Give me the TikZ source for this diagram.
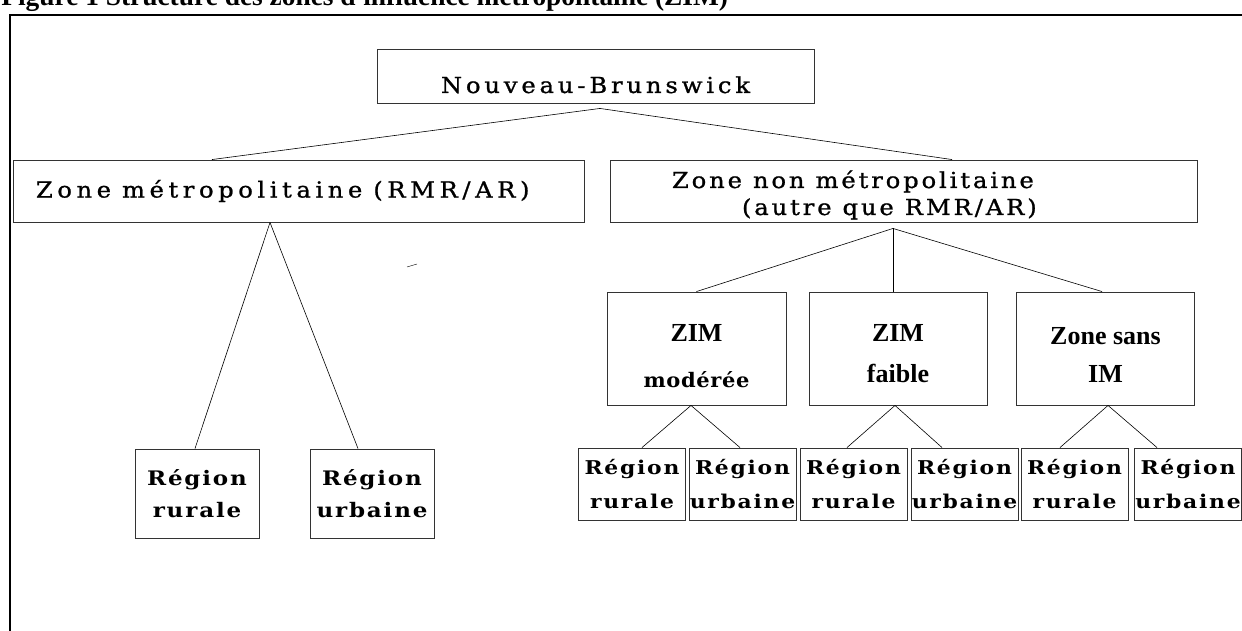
\documentclass[tikz,border=0pt]{standalone}
\usepackage{fontspec}
\usepackage{graphicx}
\usepackage{tikz}
\usetikzlibrary{positioning}
\newfontfamily\boxfont{DejaVu Serif}
\newfontfamily\zonefont[FakeBold=1]{DejaVu Serif}
\newfontfamily\timesfont{Liberation Serif}
% espace entre mots (LetterSpace le supprime)
\newcommand{\wsp}{\hspace{10pt}}
% lettres plus larges
\newcommand{\xwide}[2][1.1]{\scalebox{#1}[1]{#2}}

\begin{document}
\begin{tikzpicture}[x=1pt, y=-1pt, auto, on grid, semithick,
    box/.style={rectangle, draw=black!80, line width=0.9pt, inner sep=0pt},
    zonetext/.style={font=\zonefont\fontsize{22}{27}\selectfont},
    zimtext/.style={font=\timesfont\bfseries\fontsize{26}{38}\selectfont, align=center, text height=75pt, text depth=8pt},
    regiontext/.style={font=\boxfont\bfseries\fontsize{19}{34}\selectfont\addfontfeature{LetterSpace=8}, align=center},
    bigregiontext/.style={font=\boxfont\bfseries\fontsize{20}{32}\selectfont\addfontfeature{LetterSpace=8}, align=center}]
			\useasboundingbox (0,0) rectangle (1242,631);
			% titre coupe par le bord
			\node [anchor=base west, inner sep=0pt, font=\timesfont\bfseries\fontsize{27.4}{30}\selectfont] (TITLE) at (1,6) {Figure 1 Structure des zones d'influence métropolitaine (ZIM)};
			\draw [line width=2.6pt] (1250,15) -- (10,15) -- (10,640);
			\node [box, zonetext, minimum width=437pt, minimum height=54pt, text height=38pt, text depth=4pt] (NB) at (595.5,76) {\xwide{\addfontfeature{LetterSpace=16}Nouveau-Brunswick}};
			\node [box, zonetext, minimum width=571pt, minimum height=62pt, text width=525pt, align=left] (ZM) [below left=115pt and 297pt of NB] {\xwide{\addfontfeature{LetterSpace=19}Zone\wsp métropolitaine\wsp(RMR/AR)}};
			\node [box, zonetext, minimum width=587pt, minimum height=62pt, text width=463pt, align=left, text height=20pt, text depth=26pt] (ZNM) [below right=115pt and 308pt of NB] {\xwide{\addfontfeature{LetterSpace=12}Zone\wsp non\wsp métropolitaine}\\\hspace*{70pt}\xwide{\addfontfeature{LetterSpace=12}(autre\wsp que\wsp RMR/AR)}};
			\node [box, bigregiontext, minimum width=124pt, minimum height=89pt] (RURA) [below left=302.5pt and 101.5pt of ZM] {\xwide[1.15]{Région}\\\xwide[1.15]{rurale}};
			\node [box, bigregiontext, minimum width=124pt, minimum height=89pt] (URBA) [right=175pt of RURA] {\xwide[1.15]{Région}\\\xwide[1.15]{urbaine}};
			\node [box, zimtext, minimum width=179pt, minimum height=113pt, text height=85pt] (ZIMA) [below left=157.5pt and 207pt of ZNM] {ZIM\\[8pt]\boxfont\fontsize{20}{20}\selectfont\addfontfeature{LetterSpace=3}\xwide[1.05]{modérée}};
			\node [box, zimtext, minimum width=178pt, minimum height=113pt] (ZIMB) [right=201.5pt of ZIMA] {ZIM\\[3pt]faible};
			\node [box, zimtext, minimum width=178pt, minimum height=113pt] (ZIMC) [right=207.5pt of ZIMB] {Zone sans\\IM};
			\node [box, regiontext, minimum width=107pt, minimum height=72pt] (RURB) [below left=135.5pt and 64.5pt of ZIMA] {\xwide[1.15]{Région}\\\xwide[1.15]{rurale}};
			\node [box, regiontext, minimum width=107pt, minimum height=72pt] (URBB) [right=110.5pt of RURB] {\xwide[1.15]{Région}\\\xwide[1.15]{urbaine}};
			\node [box, regiontext, minimum width=107pt, minimum height=72pt] (RURC) [right=111pt of URBB] {\xwide[1.15]{Région}\\\xwide[1.15]{rurale}};
			\node [box, regiontext, minimum width=107pt, minimum height=72pt] (URBC) [right=111pt of RURC] {\xwide[1.15]{Région}\\\xwide[1.15]{urbaine}};
			\node [box, regiontext, minimum width=107pt, minimum height=72pt] (RURD) [right=110pt of URBC] {\xwide[1.15]{Région}\\\xwide[1.15]{rurale}};
			\node [box, regiontext, minimum width=107pt, minimum height=72pt] (URBD) [right=113.5pt of RURD] {\xwide[1.15]{Région}\\\xwide[1.15]{urbaine}};
			\path ([xshift=4.5pt, yshift=-5pt]NB.south) edge ([xshift=-86.5pt]ZM.north);
			\path ([xshift=4.5pt, yshift=-5pt]NB.south) edge ([xshift=48.5pt]ZNM.north);
			\path ([xshift=-28.5pt]ZM.south) edge ([xshift=-2pt]RURA.north);
			\path ([xshift=-28.5pt]ZM.south) edge ([xshift=-14pt]URBA.north);
			\path ([xshift=-10.5pt, yshift=-6pt]ZNM.south) edge (ZIMA.north);
			\path ([xshift=-10.5pt, yshift=-6pt]ZNM.south) edge ([xshift=-5pt]ZIMB.north);
			\path ([xshift=-10.5pt, yshift=-6pt]ZNM.south) edge ([xshift=-3.5pt]ZIMC.north);
			\path ([xshift=-5.5pt]ZIMA.south) edge ([xshift=10pt]RURB.north);
			\path ([xshift=-5.5pt]ZIMA.south) edge ([xshift=-2.5pt]URBB.north);
			\path ([xshift=-3pt]ZIMB.south) edge ([xshift=-6.5pt]RURC.north);
			\path ([xshift=-3pt]ZIMB.south) edge ([xshift=-22.5pt]URBC.north);
			\path ([xshift=2.5pt]ZIMC.south) edge ([xshift=-14.5pt]RURD.north);
			\path ([xshift=2.5pt]ZIMC.south) edge ([xshift=-31pt]URBD.north);
			% petit trait isole
			\draw [thin] (407,267) -- (417,264);
		\end{tikzpicture}
\end{document}
